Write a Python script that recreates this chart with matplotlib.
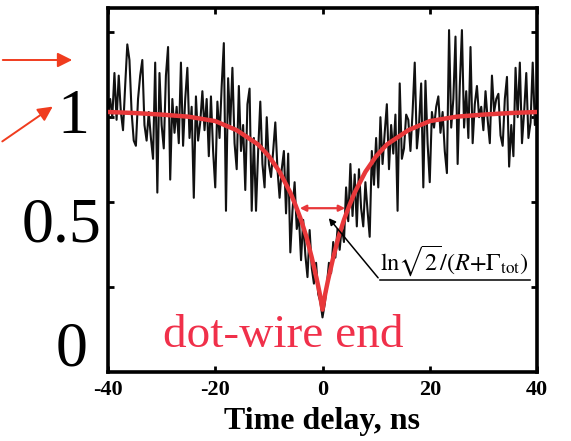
import numpy as np
import matplotlib.pyplot as plt
from matplotlib.patches import FancyArrowPatch

plt.rcParams['mathtext.fontset'] = 'stix'

# measured correlation, 0.4 ns steps from -40 to 40 ns
t = np.linspace(-40, 40, 201)
g2 = [0.99, 1.05, 0.98, 1.15, 0.97, 1.14, 1.0, 0.93, 1.1, 1.26,
      1.2, 1.0, 0.89, 0.87, 1.05, 1.14, 1.2, 0.95, 0.89, 1.0,
      0.9, 0.82, 1.19, 0.69, 1.15, 0.95, 0.86, 1.14, 1.25, 0.74,
      1.05, 0.92, 1.02, 0.88,
      1.19, 0.87, 1.05, 1.17, 0.9, 1.02, 0.67, 1.06, 0.89, 0.96,
      1.08, 0.93, 1.05, 0.83, 1.06, 0.85, 0.71, 1.04, 0.9, 1.1,
      1.265, 0.62, 1.13, 0.95, 1.17, 0.88, 0.78, 1.1, 0.85, 0.95,
      0.7, 1.03,
      1.09, 0.62, 0.9, 0.62, 0.85, 1.04, 0.8, 0.71, 0.98, 0.8,
      0.75, 0.85, 0.96, 0.78, 0.67, 0.78, 0.85, 0.61, 0.84, 0.46,
      0.62, 0.73, 0.55, 0.6, 0.43, 0.585, 0.45, 0.365, 0.546, 0.4,
      0.34, 0.42, 0.3, 0.27, 0.21,
      0.26, 0.33, 0.42, 0.38, 0.5, 0.44, 0.55, 0.47, 0.56, 0.5,
      0.71, 0.58, 0.8, 0.6, 0.76, 0.56, 0.78, 0.63, 0.56, 0.73,
      0.62, 0.52, 0.85, 0.72, 0.9, 0.71, 0.98, 0.8, 0.92, 1.03,
      0.78, 0.95, 0.84,
      0.99, 0.62, 1.11, 0.82, 0.86, 0.99, 0.97, 0.85, 1.0, 1.19,
      0.86, 0.95, 1.11, 0.71, 1.12, 0.88, 0.73, 1.0, 0.94, 1.02,
      1.06, 0.92, 1.0, 0.85, 0.765, 1.315, 0.94, 1.05, 1.29, 0.8,
      1.1, 1.315, 0.94, 1.08,
      0.9, 1.25, 0.88, 1.03, 1.1, 0.98, 1.02, 0.93, 1.08, 0.97,
      0.88, 1.14, 1.0, 1.05, 1.07, 0.91, 0.87, 1.05, 1.135, 0.79,
      0.95, 0.83, 1.17, 0.98, 1.19, 0.88, 1.0, 1.15, 0.9, 0.96,
      1.19, 0.95, 1.05]

# fitted curve
t_fit = [-40, -35, -30, -25, -20, -16, -12, -10, -8, -6, -5, -4, -3, -2, -1, -0.5, 0,
         0.5, 1, 2, 3, 4, 5, 6, 8, 10, 12, 16, 20, 25, 30, 35, 40]
g2_fit = [1.0, 0.996, 0.99, 0.982, 0.965, 0.93, 0.875, 0.83, 0.77, 0.69, 0.64, 0.585,
          0.52, 0.44, 0.35, 0.30, 0.24,
          0.30, 0.35, 0.44, 0.52, 0.585, 0.64, 0.69, 0.77, 0.83, 0.875, 0.93, 0.965,
          0.982, 0.99, 0.996, 1.0]

width_y = 0.63
width_x = [-4.75, 4.75]

W, H = 571, 441
fig = plt.figure(figsize=(W / 100, H / 100), dpi=100)
ax = fig.add_axes([108 / W, 1 - 372 / H, 429 / W, 364 / H])

ax.plot(t, g2, color='#111111', lw=1.5, zorder=2)
ax.plot(t_fit, g2_fit, color='#e8383a', lw=3.2, zorder=3)

ax.add_patch(FancyArrowPatch((width_x[0], width_y), (width_x[1], width_y),
                             arrowstyle='<|-|>', mutation_scale=9,
                             color='#e8383a', lw=1.6, zorder=4))

# leader line to the width label
ax.plot([10.7, 38.7], [0.354, 0.354], color='black', lw=1.1, zorder=4)
ax.annotate('', xy=(0.84, 0.60), xytext=(10.7, 0.354),
            arrowprops=dict(arrowstyle='-|>', color='black', lw=1.1, mutation_scale=10),
            zorder=4)
ax.text(24.6, 0.43, r'$\ln\!\sqrt{2}/(R{+}\Gamma_{\rm tot})$', fontsize=17.5,
        ha='center', va='center', zorder=5)

ax.text(-29.7, 0.14, 'dot-wire end', fontsize=34, color='#f0304a',
        family='Liberation Serif', ha='left', va='center', zorder=5)

ax.set_xlim(-40, 40)
ax.set_ylim(0, 1.4)
ax.set_xticks([-40, -20, 0, 20, 40])
ax.set_xticklabels(['-40', '-20', '0', '20', '40'])
ax.set_yticks([0.327, 0.654, 0.981, 1.308])
ax.set_yticklabels([])
ax.tick_params(direction='in', length=4, width=2, top=True, right=True,
               labelsize=16, pad=6)
for lbl in ax.get_xticklabels():
    lbl.set_family('Liberation Serif')
    lbl.set_fontweight('bold')
for s in ax.spines.values():
    s.set_linewidth(2.6)

ax.set_xlabel('Time delay, ns', family='Liberation Serif', fontweight='bold',
              fontsize=23, labelpad=5)

# big value labels beside the axis
for txt, px, py in [('1', 73, 118), ('0.5', 62, 226), ('0', 72, 350)]:
    fig.text(px / W, 1 - py / H, txt, fontsize=46, family='Liberation Serif',
             ha='center', va='center')

# pointer arrows at the left edge
fig.patches.append(FancyArrowPatch((0, 1 - 60 / H), (75 / W, 1 - 60 / H),
                                   transform=fig.transFigure, arrowstyle='-|>',
                                   mutation_scale=22, color='#f03c1e', lw=1.4))
fig.patches.append(FancyArrowPatch((0, 1 - 143 / H), (55 / W, 1 - 105 / H),
                                   transform=fig.transFigure, arrowstyle='-|>',
                                   mutation_scale=22, color='#f03c1e', lw=1.4))

fig.savefig('out.png', dpi=100)
